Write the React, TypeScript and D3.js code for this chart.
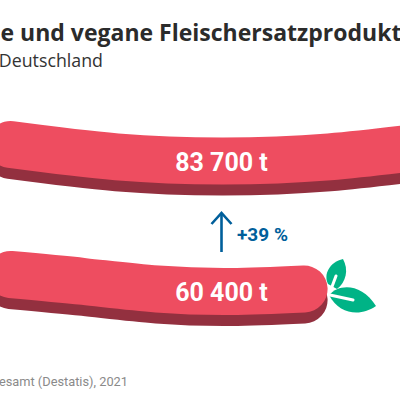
import React from 'react';
import * as d3 from 'd3';

const products = ['2020', '2019'];
const tonnes = [83700, 60400];
const tonneLabels = ['83 700 t', '60 400 t'];
const changeLabel = '+39 %';

const title = 'Vegetarische und vegane Fleischersatzprodukte';
const subtitle = 'Produktion in Deutschland';
const source = 'Quelle: Statistisches Bundesamt (Destatis), 2021';

const W = 400;
const H = 400;
const FONT = 'Roboto, "Open Sans", sans-serif';
const RED = '#ee4d60';
const DARK = '#93303f';
const BLUE = '#005f9b';
const GREEN = '#00b386';
const THICK = 47;
const DEPTH = 11;

// sausage length comes from the tonnes, both start at the same left end
const x = d3.scaleLinear().domain([0, 83700]).range([-13, 459]);

// how the middle line of each sausage bends, one y per share of its length
const shares = [0, 0.25, 0.5, 0.75, 1];
const bend = [
	[144.5, 156.8, 161, 156.8, 145],
	[274.5, 281.5, 289, 291.5, 289],
];

function middleLine(i: number) {
	const cap = THICK / 2;
	const left = x(0) + cap;
	const right = x(tonnes[i]) - cap;
	const line = d3.line<number>()
		.x((s) => left + (right - left) * s)
		.y((s, k) => bend[i][k])
		.curve(d3.curveNatural);
	return line(shares) as string;
}

function App() {
	const labelX = 221.5;
	return (
		<svg width={W} height={H} style={{ position: 'absolute', left: 0, top: 0, background: '#fff' }} fontFamily={FONT}>
			<text x={415} y={41} textAnchor="end" fontFamily='"Open Sans", sans-serif' fontSize={23} fontWeight={700} fill="#2b2b2b">{title}</text>
			<text x={103} y={67} textAnchor="end" fontFamily='"Open Sans", sans-serif' fontSize={17.8} fill="#333">{subtitle}</text>

			{products.map((p, i) => {
				const d = middleLine(i);
				return (
					<g key={p}>
						<path d={d} transform={`translate(0,${DEPTH})`} fill="none" stroke={DARK} strokeWidth={THICK} strokeLinecap="round" />
						<path d={d} fill="none" stroke={RED} strokeWidth={THICK} strokeLinecap="round" />
					</g>
				);
			})}
			{tonneLabels.map((t, i) => (
				<text key={t} x={labelX} y={i === 0 ? 171 : 301} textAnchor="middle" fontSize={25} fontWeight={700} fill="#fff">{t}</text>
			))}

			<g fill="none" stroke={BLUE} strokeWidth={2.6}>
				<path d="M221.5,252V213" />
				<path d="M211.5,224L221.5,213L231.5,224" />
			</g>
			<text x={237} y={241} fontSize={19} fontWeight={700} fill={BLUE}>{changeLabel}</text>

			<g fill={GREEN}>
				<path d="M328,284C323,274 330,262 343,259C349,270 346,282 337,289Z" />
				<path d="M329,295C340,283 362,284 376,306C362,316 340,316 329,295Z" />
			</g>
			<g fill="none" stroke="#fff" strokeWidth={3} strokeLinecap="round">
				<path d="M330,292L336,276" />
				<path d="M330,295L353,300" />
			</g>

			<text x={128} y={386} textAnchor="end" fontSize={12.8} fill="#8a8a8a">{source}</text>
		</svg>
	);
}

export default App;
